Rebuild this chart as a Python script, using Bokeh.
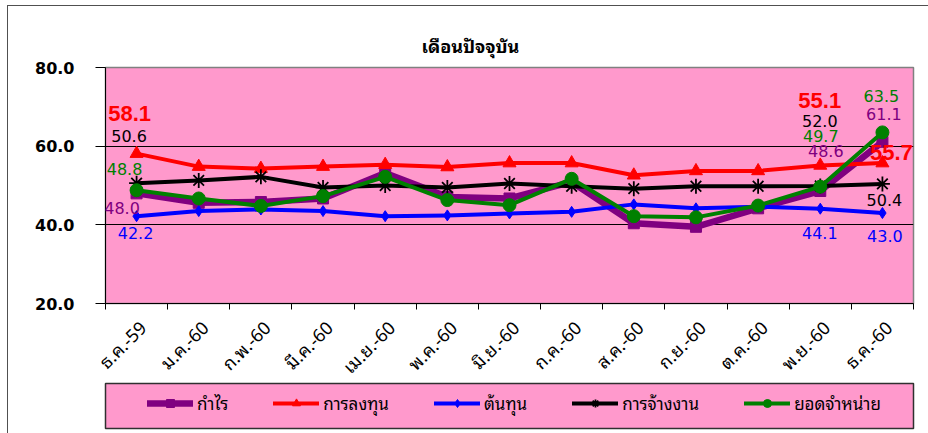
import math
from bokeh.plotting import figure
from bokeh.layouts import column
from bokeh.models import (Range1d, FixedTicker, Legend, LegendItem, Label,
                          PrintfTickFormatter)
from bokeh.embed import file_html
from bokeh.resources import INLINE

# ---------------- data ----------------
months = ["ธ.ค.-59", "ม.ค.-60", "ก.พ.-60", "มี.ค.-60", "เม.ย.-60", "พ.ค.-60",
          "มิ.ย.-60", "ก.ค.-60", "ส.ค.-60", "ก.ย.-60", "ต.ค.-60", "พ.ย.-60", "ธ.ค.-60"]
profit = [48.0, 45.6, 45.8, 46.7, 53.2, 47.1, 46.7, 50.9, 40.4, 39.5, 44.2, 48.6, 61.1]
investment = [58.1, 54.8, 54.3, 54.8, 55.3, 54.7, 55.7, 55.7, 52.6, 53.7, 53.7, 55.1, 55.7]
cost = [42.2, 43.5, 43.9, 43.5, 42.2, 42.4, 42.9, 43.3, 45.2, 44.2, 44.6, 44.1, 43.0]
employment = [50.6, 51.3, 52.2, 49.5, 50.0, 49.5, 50.5, 49.8, 49.2, 49.8, 49.8, 49.9, 50.4]
sales = [48.8, 46.7, 44.8, 47.3, 52.2, 46.3, 45.0, 51.7, 42.2, 41.9, 44.9, 49.7, 63.5]
series_names = ["กำไร", "การลงทุน", "ต้นทุน", "การจ้างงาน", "ยอดจำหน่าย"]
y_ticks = [20, 40, 60, 80]
title_text = "เดือนปัจจุบัน"

# data labels shown on the chart: (series index, month index, text)
data_labels = [
    (1, 0, "58.1"), (3, 0, "50.6"), (4, 0, "48.8"), (0, 0, "48.0"), (2, 0, "42.2"),
    (1, 11, "55.1"), (3, 11, "52.0"), (4, 11, "49.7"), (0, 11, "48.6"), (2, 11, "44.1"),
    (4, 12, "63.5"), (0, 12, "61.1"), (1, 12, "55.7"), (3, 12, "50.4"), (2, 12, "43.0"),
]
# pixel offsets of those labels from their points (layout only)
label_offsets = [
    (-7, 40), (-7.5, 47), (-12, 21), (-14.5, -14.5), (-1, -16.5),
    (-0.5, 65), (-0.5, 64.5), (0.5, 51), (5.5, 40), (-0.5, -24),
    (-1, 36), (1.5, 28), (9, 11), (2, -16), (2.5, -23),
]

THAI = "'Noto Sans Thai Looped', 'Noto Sans Thai', Tahoma, 'DejaVu Sans', sans-serif"
NUM = "'DejaVu Sans', sans-serif"
PINK = "#FF99CC"

series_values = [profit, investment, cost, employment, sales]
styles = [
    dict(color="#800080", lw=6.5, marker="square", size=11),
    dict(color="#FF0000", lw=4, marker="triangle", size=13),
    dict(color="#0000FF", lw=4, marker="diamond", size=11),
    dict(color="#000000", lw=4, marker="asterisk", size=15),
    dict(color="#008000", lw=4, marker="circle", size=13),
]

xs = [i + 0.5 for i in range(len(months))]
label_shift = 0.09  # nudge of the rotated month labels toward their points

p = figure(width=920, height=387, output_backend="svg", toolbar_location=None,
           x_range=Range1d(0, len(months)), y_range=Range1d(y_ticks[0], y_ticks[-1]),
           min_border_left=94, min_border_right=14, min_border_top=61,
           min_border_bottom=90, title=title_text)
p.title.align = "left"
p.title.offset = 316
p.title.text_font = THAI
p.title.text_font_size = "18px"
p.title.text_font_style = "bold"
p.title.text_color = "black"
p.title.standoff = 17
p.background_fill_color = PINK
p.border_fill_color = "white"
p.outline_line_color = "#808080"
p.outline_line_width = 1.5

# axes
tick_pos = [x + label_shift for x in xs]
p.xaxis.ticker = FixedTicker(ticks=tick_pos, minor_ticks=list(range(len(months) + 1)))
p.xaxis.major_label_overrides = {t: m for t, m in zip(tick_pos, months)}
p.xaxis.major_label_orientation = math.pi / 4
p.xaxis.major_tick_out = 0
p.xaxis.major_tick_in = 0
p.xaxis.minor_tick_out = 6
p.xaxis.minor_tick_in = 0
p.xaxis.minor_tick_line_color = "black"
p.xaxis.major_label_standoff = 14
p.xaxis.major_label_text_font = THAI
p.xaxis.major_label_text_font_size = "18px"
p.xaxis.major_label_text_color = "black"
p.xaxis.axis_line_color = "black"

p.yaxis.ticker = FixedTicker(ticks=y_ticks)
p.yaxis.formatter = PrintfTickFormatter(format="%.1f")
p.yaxis.major_tick_out = 10
p.yaxis.major_tick_in = 0
p.yaxis.minor_tick_line_color = None
p.yaxis.major_label_standoff = 21
p.yaxis.major_label_text_font = NUM
p.yaxis.major_label_text_font_size = "16px"
p.yaxis.major_label_text_font_style = "bold"
p.yaxis.major_label_text_color = "black"
p.yaxis.axis_line_color = "black"

p.xgrid.grid_line_color = None
p.ygrid.ticker = FixedTicker(ticks=y_ticks[1:-1])
p.ygrid.grid_line_color = "black"
p.ygrid.grid_line_width = 1

for vals, st in zip(series_values, styles):
    p.line(xs, vals, line_color=st["color"], line_width=st["lw"],
           line_join="round", line_cap="round")
    p.scatter(xs, vals, marker=st["marker"], size=st["size"],
              fill_color=st["color"], line_color=st["color"],
              line_width=1.8 if st["marker"] == "asterisk" else 1)

# data labels
for (si, mi, txt), (dx, dy) in zip(data_labels, label_offsets):
    big = si == 1
    p.add_layout(Label(x=xs[mi], y=series_values[si][mi], text=txt,
                       x_offset=dx, y_offset=dy, text_align="center",
                       text_baseline="middle",
                       text_color=styles[si]["color"],
                       text_font="'Liberation Sans', Arial, sans-serif" if big else NUM,
                       text_font_style="bold" if big else "normal",
                       text_font_size="22px" if big else "16px"))

# ---------------- legend box (its own small figure) ----------------
lg = figure(width=920, height=60, output_backend="svg", toolbar_location=None,
            x_range=Range1d(0, 1), y_range=Range1d(0, 1),
            x_axis_location=None, y_axis_location=None,
            min_border_left=97, min_border_right=15, min_border_top=10,
            min_border_bottom=5, margin=(-20, 0, 0, 0))
lg.xgrid.grid_line_color = None
lg.ygrid.grid_line_color = None
lg.background_fill_color = PINK
lg.border_fill_alpha = 0
lg.outline_line_color = "#303030"
lg.outline_line_width = 1.5

# legend swatches: sample glyphs kept outside the visible range
items = []
for name, st in zip(series_names, styles):
    lr = lg.line([5, 6], [5, 6], line_color=st["color"], line_width=st["lw"],
                 line_cap="round")
    sr = lg.scatter([5], [5], marker=st["marker"], size=st["size"],
                    fill_color=st["color"], line_color=st["color"],
                    line_width=1.8 if st["marker"] == "asterisk" else 1)
    items.append(LegendItem(label=name, renderers=[lr, sr]))

legend = Legend(items=items, orientation="horizontal", location=(42, 12),
                padding=0, margin=0, spacing=45, glyph_width=46, glyph_height=20,
                label_standoff=4, label_height=20, background_fill_alpha=0,
                border_line_alpha=0, label_text_font=THAI,
                label_text_font_size="17px", label_text_color="black")
lg.add_layout(legend, "center")

layout = column(p, lg, spacing=0, margin=(5, 0, 0, 7),
                stylesheets=[":host { border-top: 1px solid #505050 !important; "
                             "border-left: 1px solid #505050 !important; }"])

open("out.html", "w").write(file_html(layout, INLINE))
